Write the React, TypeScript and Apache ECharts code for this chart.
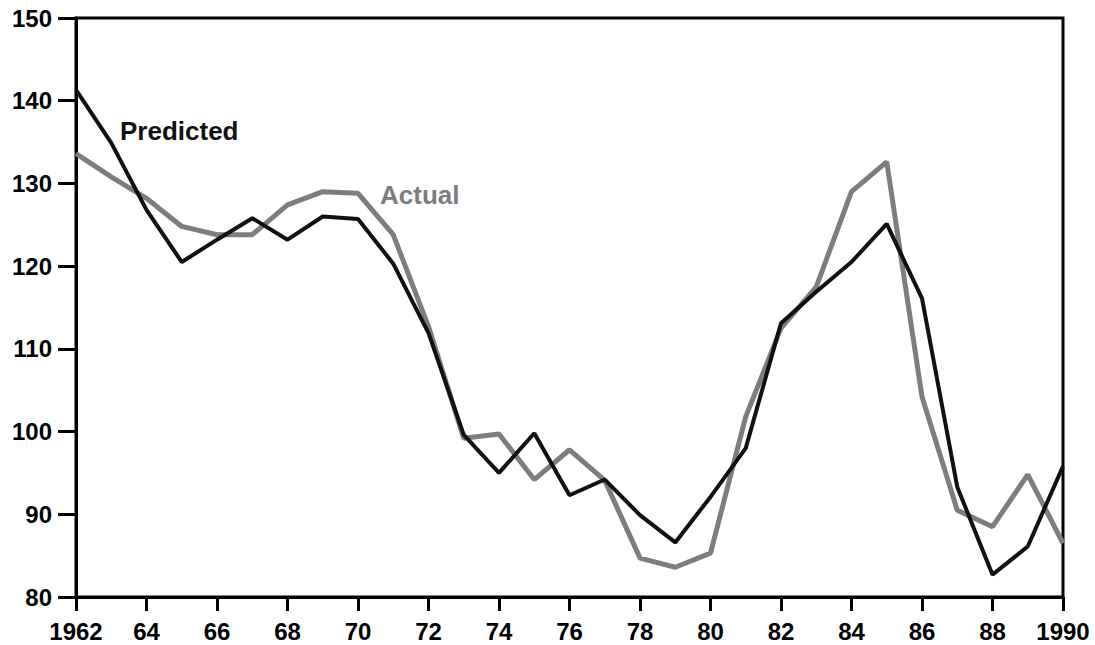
import React, { useEffect, useRef } from "react";
import * as echarts from "echarts";

const years: number[] = [
  1962, 1963, 1964, 1965, 1966, 1967, 1968, 1969, 1970, 1971, 1972, 1973, 1974, 1975, 1976,
  1977, 1978, 1979, 1980, 1981, 1982, 1983, 1984, 1985, 1986, 1987, 1988, 1989, 1990,
];
const predicted: number[] = [
  141.3, 134.9, 126.8, 120.5, 123.2, 125.8, 123.2, 126.0, 125.7, 120.3, 111.9, 99.6, 95.0, 99.8,
  92.3, 94.2, 89.9, 86.6, 92.1, 98.0, 113.1, 116.9, 120.5, 125.1, 116.1, 93.3, 82.7, 86.1, 95.8,
];
const actual: number[] = [
  133.6, 130.8, 128.2, 124.8, 123.8, 123.8, 127.4, 129.0, 128.8, 123.8, 112.7, 99.2, 99.7, 94.2,
  97.8, 94.1, 84.7, 83.6, 85.3, 101.8, 112.5, 117.5, 129.0, 132.6, 104.2, 90.5, 88.5, 94.8, 86.5,
];
const seriesNames: string[] = ["Predicted", "Actual"];

const FONT = "'Liberation Sans', Arial, Helvetica, sans-serif";

export default function App() {
  const ref = useRef<HTMLDivElement>(null);
  useEffect(() => {
    document.body.style.margin = "0";
    if (!ref.current) return;
    const chart = echarts.init(ref.current, undefined, { renderer: "svg" });
    const predData = years.map((y, i) => [y, predicted[i]]);
    const actData = years.map((y, i) => [y, actual[i]]);
    chart.setOption({
      animation: false,
      backgroundColor: "#ffffff",
      grid: {
        left: 76,
        right: 32,
        top: 18,
        bottom: 48,
        show: true,
        borderColor: "#000000",
        borderWidth: 3,
      },
      xAxis: {
        type: "value",
        min: 1962,
        max: 1990,
        interval: 2,
        axisLine: { show: true, lineStyle: { color: "#000", width: 3 } },
        axisTick: { show: true, length: 14, lineStyle: { color: "#000", width: 3 } },
        splitLine: { show: false },
        axisLabel: {
          margin: 22,
          color: "#000",
          fontSize: 24,
          fontWeight: "bold",
          fontFamily: FONT,
          formatter: (v: number) =>
            v === 1962 || v === 1990 ? String(v) : String(v).slice(2),
        },
      },
      yAxis: {
        type: "value",
        min: 80,
        max: 150,
        interval: 10,
        axisLine: { show: true, lineStyle: { color: "#000", width: 3 } },
        axisTick: { show: true, length: 18, lineStyle: { color: "#000", width: 3 } },
        splitLine: { show: false },
        axisLabel: {
          margin: 24,
          color: "#000",
          fontSize: 24,
          fontWeight: "bold",
          fontFamily: FONT,
        },
      },
      series: [
        {
          name: seriesNames[1],
          type: "line",
          data: actData,
          symbol: "none",
          lineStyle: { color: "#7d7d7d", width: 5 },
          z: 2,
        },
        {
          name: seriesNames[0],
          type: "line",
          data: predData,
          symbol: "none",
          lineStyle: { color: "#111111", width: 4 },
          z: 3,
        },
      ],
      graphic: [
        {
          type: "text",
          left: 120,
          top: 118,
          style: {
            text: seriesNames[0],
            fill: "#111",
            font: `bold 26px ${FONT}`,
          },
        },
        {
          type: "text",
          left: 380,
          top: 182,
          style: {
            text: seriesNames[1],
            fill: "#7d7d7d",
            font: `bold 26px ${FONT}`,
          },
        },
      ],
    });
    return () => chart.dispose();
  }, []);
  return <div ref={ref} style={{ width: 1095, height: 645 }} />;
}
